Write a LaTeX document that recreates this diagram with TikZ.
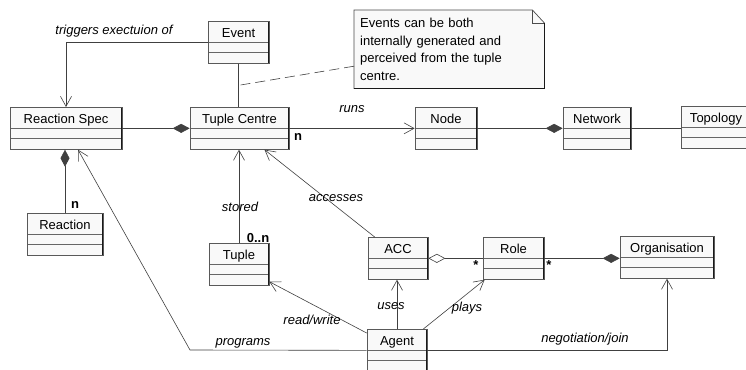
\documentclass[tikz,border=0pt]{standalone}
\usepackage{fontspec}
\setmainfont{Liberation Sans}
\usetikzlibrary{arrows.meta,calc,backgrounds}

\newcommand{\umlfont}{\fontsize{13}{17.5}\selectfont}

\begin{document}
\begin{tikzpicture}[x=1pt,y=-1pt,
    umlclass/.style={draw=black!65, fill=gray!5, line width=0.7pt, anchor=north,
        minimum height=42pt, inner xsep=0pt, inner ysep=0pt,
        text height=16pt, text depth=26pt, font=\umlfont,
        path picture={
            \draw[black!60] ([yshift=-21pt]path picture bounding box.north west)
                -- ([yshift=-21pt]path picture bounding box.north east);
            \draw[black!60] ([yshift=-31pt]path picture bounding box.north west)
                -- ([yshift=-31pt]path picture bounding box.north east);
            % darker lower and right edge
            \draw[black!90, line width=1.6pt] (path picture bounding box.south west)
                -- (path picture bounding box.south east)
                -- (path picture bounding box.north east);
        }},
    notetext/.style={anchor=north west, minimum width=190pt, minimum height=78pt,
        text width=178pt, inner xsep=6pt, align=left, font=\umlfont},
    assoc/.style={draw=black!75, line width=0.6pt},
    navig/.style={assoc, -{Straight Barb[length=10pt,width=11pt]}},
    compos/.style={assoc, -{Diamond[length=17pt,width=9pt]}},
    aggreg/.style={assoc, {Diamond[open,fill=white,length=17pt,width=9pt]}-},
    assoclabel/.style={font=\umlfont\itshape},
    multip/.style={font=\umlfont\bfseries},
]
\useasboundingbox (0,0) rectangle (746,369);

% classes
\node[umlclass, minimum width=61pt] (event) at (238.5,21) {Event};
\node[umlclass, minimum width=112pt] (rspec) at (66,107) {Reaction Spec};
\node[umlclass, minimum width=99pt] (tcentre) at (239.5,107) {Tuple Centre};
\node[umlclass, minimum width=62pt] (tnode) at (446,107) {Node};
\node[umlclass, minimum width=68pt] (network) at (597,107) {Network};
\node[umlclass, minimum width=70pt] (topology) at (716,106) {Topology};
\node[umlclass, minimum width=76pt] (reaction) at (65,213) {Reaction};
\node[umlclass, minimum width=60pt] (tuple) at (239,243) {Tuple};
\node[umlclass, minimum width=60pt] (acc) at (398,237) {ACC};
\node[umlclass, minimum width=61pt] (role) at (513.5,237) {Role};
\node[umlclass, minimum width=94pt] (org) at (667,236) {Organisation};
\node[umlclass, minimum width=60pt] (agent) at (397,329) {Agent};

% comment note with folded corner
\node[notetext] (note) at (354,10)
    {Events can be both\\internally generated and\\perceived from the tuple\\centre.};
\begin{scope}[on background layer]
    \fill[white] (0,0) rectangle (746,369);
    \filldraw[fill=gray!5, draw=black!70, line width=0.7pt]
        (note.north west) -- ([xshift=-12pt]note.north east)
        -- ([yshift=-13pt]note.north east) -- (note.south east)
        -- (note.south west) -- cycle;
    \draw[black!70, line width=0.6pt] ([xshift=-12pt]note.north east)
        -- ([xshift=-12pt,yshift=-13pt]note.north east)
        -- ([yshift=-13pt]note.north east);
    \draw[black!90, line width=1.1pt] ([yshift=-13pt]note.north east)
        -- (note.south east) -- (note.south west);
\end{scope}

% event and tuple centre
\draw[navig] (event.west) -| (rspec.north);
\node[assoclabel] (lbltrig) at (114,31) {triggers exectuion of};
\coordinate (evtc) at ($(event.south)!0.5!(event.south |- tcentre.north)$);
\draw[assoc] (event.south) -- (evtc) -- (event.south |- tcentre.north);
\draw[assoc, dash pattern=on 10pt off 5pt] ([yshift=-17pt]note.west) -- (evtc);

% top row
\draw[compos] (rspec.east) -- (tcentre.west);
\draw[navig] (tcentre.east) -- (tnode.west);
\node[assoclabel] (lblruns) at (352,109) {runs};
\node[multip] (multtc) at (298,137) {n};
\draw[compos] (tnode.east) -- (network.west);
\draw[assoc] (network.east) -- (network.east -| topology.west);

% reactions and tuples
\draw[compos] (reaction.north) -- (reaction.north |- rspec.south);
\node[multip] (multre) at (75,205) {n};
\draw[navig] (tuple.north) -- (tuple.north |- tcentre.south);
\node[assoclabel] (lblstored) at (240,207) {stored};
\node[multip] (multtu) at (258,238) {0..n};
\draw[navig] ([xshift=7pt]acc.north west) -- ([xshift=25pt]tcentre.south);
\node[assoclabel] (lblacc) at (336,198) {accesses};

% roles
\draw[aggreg] (acc.east) -- (role.west);
\node[multip] (multrl) at (476,265) {*};
\draw[compos] (role.east) -- (role.east -| org.west);
\node[multip] (multrr) at (549,265) {*};

% agent
\draw[navig] (agent.north) -- (agent.north |- acc.south);
\node[assoclabel] (lbluses) at (391,306) {uses};
\draw[navig] ([xshift=-4pt]agent.north east) -- ([xshift=2pt]role.south west);
\node[assoclabel] (lblplays) at (467,308) {plays};
\draw[navig] (agent.east) -| (org.south);
\node[assoclabel] (lblneg) at (585,339) {negotiation/join};
\draw[navig] ([yshift=-4pt]agent.north west) -- ([yshift=4pt]tuple.south east);
\node[assoclabel] (lblrw) at (312,320) {read/write};
\coordinate (bend) at (190,350);
\draw[navig] (agent.west) -- (bend) -- ([xshift=12pt]rspec.south);
\node[assoclabel] (lblprog) at (243,343) {programs};
\end{tikzpicture}
\end{document}
